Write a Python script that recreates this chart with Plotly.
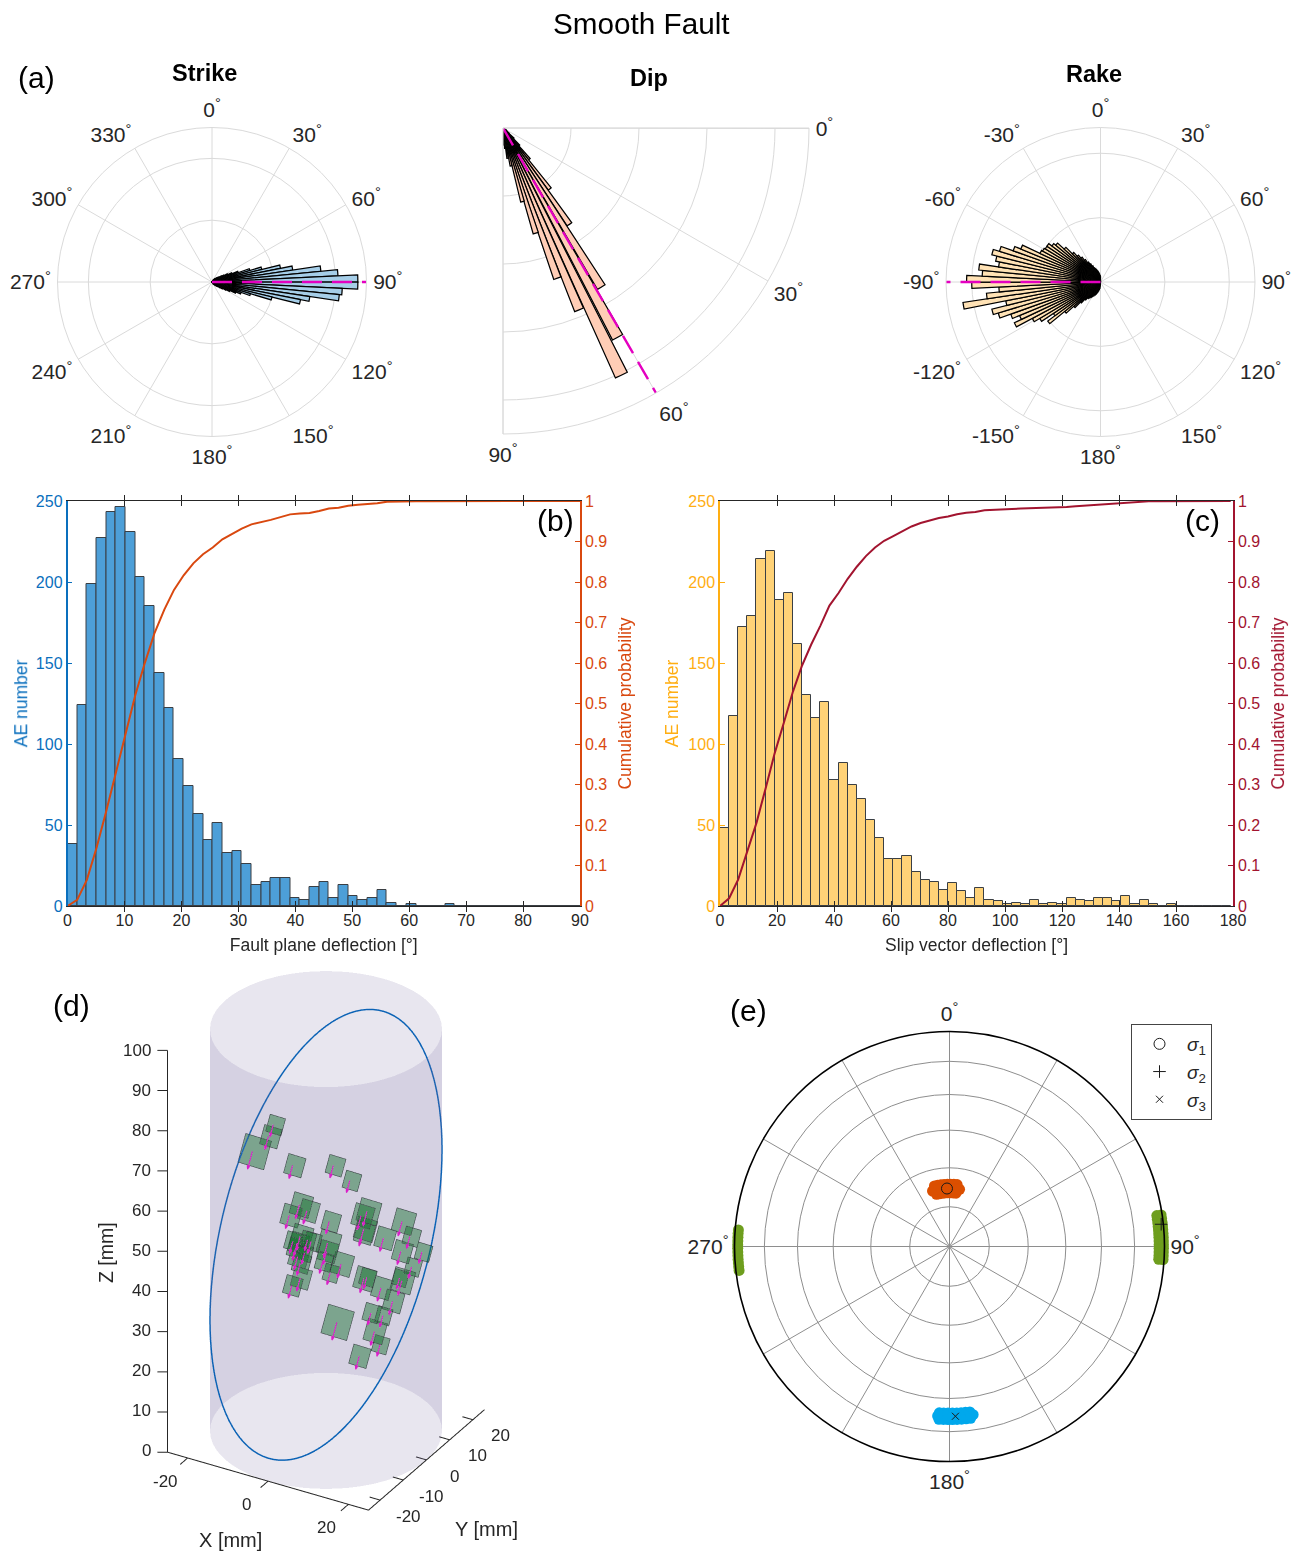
import numpy as np
import plotly.graph_objects as go

W, H = 1298, 1553
FONT = "Liberation Sans"
TXT = "#262626"

# ---------- data ----------
strike_first = 32.34375
strike_width = 2.8125
strike_vals = [3,4,5,6,7,8,10,12,14,18,22,28,35,45,64,83,113,132,177,204,236,236,211,207,160,146,100,65,50,42,32,26,20,16,12,10,8,6,5,4,3,3]
dip_theta = [32.9,35.7,38.5,41.3,44.1,46.9,49.7,52.5,55.4,58.3,61.3,64.4,67.3,70.1,72.7,75.2,78.0,81.3,84.1,86.9,89.5]
dip_vals = [5,6,8,12,22,35,60,113,172,275,351,403,290,235,162,112,57,45,30,25,20]
rake_first = -172.96875
rake_vals = [5,6,7,8,9,10,11,12,13,14,15,16,18,22,28,36,51,44,55,60,74,68,74,83,87,75,108,89,79,100,104,92,95,80,83,87,82,72,67,52,51,50,50,47,45,38,31,27,24,21,18,16,14,12,11,10,9,8,7,6,5,4]

fp_width = 1.7
fp_counts = [38,124,199,227,243,246,231,203,185,144,122,91,74,57,41,51,33,34,26,13,15,17,17,5,4,12,15,5,13,6,4,5,10,2,0,1,0,0,0,1,0,0,0,0,0,0,0,0,0,0,0,0,0]
sv_width = 3.2
sv_counts = [48,117,172,179,214,219,189,193,162,130,116,126,78,88,75,66,53,42,29,29,31,21,16,15,10,14,9,5,11,4,3,1,2,1,4,1,2,1,5,4,3,5,5,3,6,1,4,1,0,1,0,0,0,0,0,0]

sig1_r = [0.25]*8 + [0.29]*8 + [0.27]*10
sig1_t = [346,349,352,355,358,1,4,7, 346,349,352,355,358,1,4,7, 343,346,349,352,355,358,1,4,7,10]
sig3_r = [0.775]*8 + [0.805]*8 + [0.79]*9
sig3_t = [173,174.5,176,177.5,179,180.5,182,183.5, 173,174.5,176,177.5,179,180.5,182,183.5, 172,173.5,175,176.5,178,179.5,181,182.5,184]
sig2a_r = [0.975]*13 + [0.995]*13
sig2a_t = [81.5,82.5,83.5,84.5,85.5,86.5,87.5,88.5,89.5,90.5,91.5,92.5,93.5, 81.5,82.5,83.5,84.5,85.5,86.5,87.5,88.5,89.5,90.5,91.5,92.5,93.5]
sig2b_r = [0.985]*12 + [1.005]*12
sig2b_t = [263.5,264.5,265.5,266.5,267.5,268.5,269.5,270.5,271.5,272.5,273.5,274.5, 263.5,264.5,265.5,266.5,267.5,268.5,269.5,270.5,271.5,272.5,273.5,274.5]
mean_r = [0.27, 0.99, 0.79]
mean_t = [357.5, 84, 178]

# fault-plane events: x, y [mm] on the plane, size [mm]
ev_x = [-18.2,-18.6,-21.4,-11.3,-1.9,2.8,-7.4,-5.3,-9.1,0.5,8.6,7.5,17.3,20,8.9,8.9,14,18.8,23.7,22.2,-5.3,-5.6,-2.5,1.4,1.7,-4.7,-3.7,1.4,5.8,3.8,-2.8,-4.3,11.9,12.5,16.4,20.8,20.1,19.9,15.6,18.5,8.3,17.5,19.6,15.5,-6.7,-5.6,-3.3,-3.4]
ev_y = [9.8,8.43,6.38,6.19,7.47,6.41,2.32,1.94,0.9,1.53,3.76,3.13,3.83,2.52,1.83,1.39,1.52,0.68,1.29,-0.59,-0.93,-1.72,-1.12,-0.76,-1.66,-3.09,-3.69,-2.82,-2.51,-3.8,-5.25,-6.32,-3.32,-3.08,-3.73,-2.32,-2.12,-4.76,-6.65,-6.55,-8.69,-8.45,-9.65,-11.5,-1.69,-2.27,-2.53,-1.05]
ev_s = [3.8,4.3,6.4,4.3,4.0,3.8,4.7,4.4,4.4,4.0,5.0,4.7,4.9,3.8,4.7,4.3,4.4,4.3,3.6,3.6,4.7,4.3,3.8,5.0,4.3,4.4,4.0,3.8,4.7,3.6,4.3,4.0,4.7,3.6,4.4,5.0,3.4,4.4,3.8,3.6,6.4,4.7,3.6,4.3,3.8,4.0,3.4,3.4]

x_ticks = [-20, 0, 20]
y_ticks = [-20, -10, 0, 10, 20]
z_ticks = [0, 10, 20, 30, 40, 50, 60, 70, 80, 90, 100]

CYL_R = 25.0
CYL_H = 100.0
PLANE = (48.8, -0.016, 1.723)   # z0, dz/dx, dz/dy

def dom_x(a, b): return [a / W, b / W]
def dom_y(top, bot): return [1 - bot / H, 1 - top / H]
def deg(v): return f"{v}<sup>°</sup>"

fig = go.Figure()

# ---------- (a) polar roses ----------
GRID = "#DADADA"
tfont = dict(family=FONT, size=21, color=TXT)
ang30 = list(range(0, 360, 30))

def rose_layout(cx, cy, r, rmax, rt, labels):
    return dict(
        domain=dict(x=dom_x(cx - r, cx + r), y=dom_y(cy - r, cy + r)),
        bgcolor="rgba(0,0,0,0)", bargap=0,
        radialaxis=dict(range=[0, rmax], tickvals=rt, showticklabels=False, ticks="", showline=False,
                        gridcolor=GRID, gridwidth=1),
        angularaxis=dict(tickmode="array", tickvals=ang30, ticktext=labels, direction="clockwise", rotation=90,
                         gridcolor=GRID, gridwidth=1, linecolor=GRID, linewidth=1, ticks="outside", ticklen=2,
                         tickcolor="rgba(0,0,0,0)", tickfont=tfont),
    )

MAG = "#E400C0"
def rose(pid, theta, vals, width, color, dash_t, dash_r):
    fig.add_trace(go.Barpolar(subplot=pid, theta=theta, r=vals, width=width,
                              marker=dict(color=color, line=dict(color="#000000", width=1.25)), showlegend=False))
    fig.add_trace(go.Scatterpolar(subplot=pid, theta=[dash_t, dash_t], r=[0, dash_r], mode="lines",
                                  cliponaxis=False, line=dict(color=MAG, width=2.4, dash="20px,10px"), showlegend=False))

strike_t = [strike_first + i * strike_width for i in range(len(strike_vals))]
rake_t = [rake_first + i * strike_width for i in range(len(rake_vals))]
rose("polar", strike_t, strike_vals, strike_width, "#A6CEE8", 90, 250)
rose("polar2", [360 - a for a in dip_theta], dip_vals, 2.75, "#FFCDB6", 300, 450)
rose("polar3", rake_t, rake_vals, strike_width, "#FFE2B5", -90, 120)

lay_a = rose_layout(212, 282, 154.5, 250, [100, 200], [deg(a) for a in ang30])
lay_c = rose_layout(1100.5, 282, 154.5, 120, [50, 100],
                    [deg(a if a <= 180 else a - 360) for a in ang30])
lay_b = rose_layout(656, 281, 153, 450, [100, 200, 300, 400], [])
lay_b["domain"] = dict(x=dom_x(503, 809), y=dom_y(128, 434))
lay_b["sector"] = [270, 360]
lay_b["angularaxis"].update(rotation=0, direction="counterclockwise", tickvals=[359.9, 330, 300, 270],
                            ticktext=[deg(0), deg(30), deg(60), deg(90)])

# ---------- (b), (c) histograms ----------
def hist(xa, ya, ya2, counts, width, bar_col, cum_col):
    centres = [width * (i + 0.5) for i in range(len(counts))]
    edges = [width * i for i in range(len(counts) + 1)]
    cum = np.concatenate([[0], np.cumsum(counts) / np.sum(counts)])
    fig.add_trace(go.Bar(x=centres, y=counts, width=width, xaxis=xa, yaxis=ya,
                         marker=dict(color=bar_col, line=dict(color="#3A3F44", width=1)), showlegend=False))
    fig.add_trace(go.Scatter(x=edges, y=cum, xaxis=xa, yaxis=ya2, mode="lines",
                             line=dict(color=cum_col, width=2), showlegend=False))

hist("x", "y", "y2", fp_counts, fp_width, "#4D9FD8", "#D9480F")
hist("x2", "y3", "y4", sv_counts, sv_width, "#FFD277", "#A2142F")

def xax(dom, rng, dtick, title, anchor):
    return dict(domain=dom, range=rng, dtick=dtick, anchor=anchor, showgrid=False, zeroline=False,
                ticks="inside", ticklen=5, tickcolor=TXT, linecolor=TXT, linewidth=1.2, mirror="allticks",
                tickfont=dict(family=FONT, size=16, color=TXT),
                title=dict(text=title, font=dict(family=FONT, size=17.5, color=TXT), standoff=10))

def yax(dom, col, anchor, title, standoff):
    return dict(domain=dom, range=[0, 250], dtick=50, anchor=anchor, showgrid=False, zeroline=False, ticks="inside",
                ticklen=5, tickcolor=col, linecolor=col, linewidth=1.5, tickfont=dict(family=FONT, size=16, color=col),
                title=dict(text=title, font=dict(family=FONT, size=17.5, color=col), standoff=standoff))

def y2ax(dom, col, anchor, over):
    return dict(domain=dom, range=[0, 1], dtick=0.1, anchor=anchor, overlaying=over, side="right", showgrid=False,
                zeroline=False, ticks="inside", ticklen=5, tickcolor=col, linecolor=col, linewidth=1.5,
                tickformat="~g", tickfont=dict(family=FONT, size=16, color=col),
                title=dict(text="Cumulative probability", font=dict(family=FONT, size=17.5, color=col), standoff=12))

dy_h = dom_y(501, 906)

# ---------- (d) cylinder, fault plane, events ----------
t = np.radians(np.arange(0, 361, 6))
cx, cy = CYL_R * np.cos(t), CYL_R * np.sin(t)
n = len(t)
xs = np.concatenate([cx, cx])
ys = np.concatenate([cy, cy])
zs = np.concatenate([np.zeros(n), np.full(n, CYL_H)])
ii, jj, kk = [], [], []
for a in range(n - 1):
    ii += [a, a + 1]
    jj += [a + 1, a + 1 + n]
    kk += [a + n, a + n]
flat = dict(ambient=1, diffuse=0, specular=0, roughness=1, fresnel=0)
fig.add_trace(go.Mesh3d(scene="scene", x=xs, y=ys, z=zs, i=ii, j=jj, k=kk, color="rgb(118,105,160)", opacity=0.17,
                        lighting=flat, flatshading=True, hoverinfo="skip", showlegend=False))

z0, gx, gy = PLANE
te = np.radians(np.arange(0, 361, 3))
ex, ey = CYL_R * np.cos(te), CYL_R * np.sin(te)
fig.add_trace(go.Scatter3d(scene="scene", x=ex, y=ey, z=z0 + gx * ex + gy * ey, mode="lines",
                           line=dict(color="#0A62B5", width=3), hoverinfo="skip", showlegend=False))

e1 = np.array([1.0, 0.0, gx]); e1 /= np.linalg.norm(e1)
e2 = np.array([0.0, 1.0, gy]); e2 -= e1 * e2.dot(e1); e2 /= np.linalg.norm(e2)
nv = np.cross(e1, e2)
if nv.dot([0.433, -0.75, 0.5]) < 0:
    nv = -nv
lx, ly, lz, ax_, ay_, az_ = [], [], [], [], [], []
for idx, (x0, y0, s) in enumerate(zip(ev_x, ev_y, ev_s)):
    c0 = np.array([x0, y0, z0 + gx * x0 + gy * y0])
    c = c0 + nv * idx * 0.02
    corners = [c + (u * e1 + v * e2) * s / 2 for u, v in [(-1, -1), (1, -1), (1, 1), (-1, 1)]]
    fig.add_trace(go.Mesh3d(scene="scene", x=[p[0] for p in corners], y=[p[1] for p in corners], z=[p[2] for p in corners],
                            i=[0, 0], j=[1, 2], k=[2, 3], color="#0F6E28", opacity=0.45,
                            lighting=flat, flatshading=True, hoverinfo="skip", showlegend=False))
    for p in corners + [corners[0]]:
        lx.append(p[0]); ly.append(p[1]); lz.append(p[2])
    lx.append(None); ly.append(None); lz.append(None)
    c_up = c0 + nv * 1.2
    tip = c_up - e2 * (s / 2 + 0.8)
    for p in [c_up, tip, tip + e2 * 0.8 + e1 * 0.3, tip + e2 * 0.8 - e1 * 0.3, tip]:
        ax_.append(p[0]); ay_.append(p[1]); az_.append(p[2])
    ax_.append(None); ay_.append(None); az_.append(None)
fig.add_trace(go.Scatter3d(scene="scene", x=lx, y=ly, z=lz, mode="lines", line=dict(color="#25352A", width=1.2),
                           hoverinfo="skip", showlegend=False))
fig.add_trace(go.Scatter3d(scene="scene", x=ax_, y=ay_, z=az_, mode="lines", line=dict(color="#EE10D0", width=2.2),
                           hoverinfo="skip", showlegend=False))

# MATLAB-style axis lines and tick marks on the three front edges
B = -CYL_R
ax_x, ax_y, ax_z = [-B * -1, B, -B], [B, B, B], [0, 0, 0]
segs = [((B, B, 0), (B, B, 100)), ((B, B, 0), (-B, B, 0)), ((-B, B, 0), (-B, -B, 0))]
segs += [((B, B, v), (B - 1.9, B - 1.1, v)) for v in z_ticks]
segs += [((v, B, 0), (v, B - 3.2, 0)) for v in x_ticks]
segs += [((-B, v, 0), (-B - 2.6, v, 0)) for v in y_ticks]
sx, sy, sz = [], [], []
for p, q in segs:
    sx += [p[0], q[0], None]; sy += [p[1], q[1], None]; sz += [p[2], q[2], None]
fig.add_trace(go.Scatter3d(scene="scene", x=sx, y=sy, z=sz, mode="lines", line=dict(color=TXT, width=2),
                           hoverinfo="skip", showlegend=False))

def ax3(rng):
    return dict(range=rng, showgrid=False, zeroline=False, showbackground=False, showspikes=False, showline=False,
                ticks="", showticklabels=False, title=dict(text=""))

SC = 0.725
scene = dict(
    domain=dict(x=dom_x(106, 546), y=dom_y(910, 1550)),
    aspectmode="manual", aspectratio=dict(x=SC * 1.2, y=SC * 1.2, z=2 * SC),
    camera=dict(eye=dict(x=0.6, y=-1.04, z=0.693), center=dict(x=0, y=0, z=0), up=dict(x=0, y=0, z=1),
                projection=dict(type="orthographic")),
    xaxis=ax3([-30, 30]), yaxis=ax3([-30, 30]), zaxis=ax3([0, 100]),
)

def proj(x, y, z):
    """Pixel position of a scene point under the orthographic camera above."""
    return 326 + 4.018 * x + 2.32 * y, 1431 + 1.16 * x - 2.009 * y - 4.0 * z

# ---------- (e) stereonet ----------
for r_, t_, col in [(sig1_r, sig1_t, "#DB4F00"), (sig3_r, sig3_t, "#00A8EC"),
                    (sig2a_r, sig2a_t, "#6E9E1E"), (sig2b_r, sig2b_t, "#6E9E1E")]:
    fig.add_trace(go.Scatterpolar(subplot="polar4", r=r_, theta=t_, mode="markers", cliponaxis=False,
                                  marker=dict(color=col, size=11), showlegend=False))
for i, (sym, size, name) in enumerate([("circle-open", 11, "<i>σ</i><sub>1</sub>"), ("cross-thin-open", 9, "<i>σ</i><sub>2</sub>"),
                                 ("x-thin-open", 7, "<i>σ</i><sub>3</sub>")]):
    fig.add_trace(go.Scatterpolar(subplot="polar4", r=[mean_r[i]], theta=[mean_t[i]], mode="markers", name=name, cliponaxis=False,
                                  marker=dict(symbol=sym, size=size, color="#1A1A1A", line=dict(color="#1A1A1A", width=1))))

lab_e = [deg(a) if a in (0, 90, 180, 270) else "" for a in ang30]
lay_e = dict(
    domain=dict(x=dom_x(734.5, 1164.5), y=dom_y(1031.5, 1461.5)),
    bgcolor="rgba(0,0,0,0)",
    radialaxis=dict(range=[0, 1], tickvals=[0.185, 0.366, 0.541, 0.707, 0.861], showticklabels=False, ticks="",
                    showline=False, gridcolor="#8E8E8E", gridwidth=1),
    angularaxis=dict(tickmode="array", tickvals=ang30, ticktext=lab_e, direction="clockwise", rotation=90,
                     gridcolor="#8E8E8E", gridwidth=1, linecolor="#000000", linewidth=1.6, ticks="outside", ticklen=1,
                     tickcolor="rgba(0,0,0,0)", tickfont=dict(family=FONT, size=21, color=TXT)),
)

# ---------- text ----------
def note(x, y, text, size, bold=False, angle=0, color="#000000", anchor="center"):
    return dict(x=x / W, y=1 - y / H, xref="paper", yref="paper", xanchor=anchor, yanchor="middle", showarrow=False,
                textangle=angle, text=f"<b>{text}</b>" if bold else text, font=dict(family=FONT, size=size, color=color))

notes = [note(641, 23, "Smooth Fault", 29.7), note(204, 73, "Strike", 23.5, True), note(649, 78, "Dip", 23.5, True),
         note(1094, 74, "Rake", 23.5, True), note(36, 78, "(a)", 30), note(555, 520, "(b)", 30), note(1202, 520, "(c)", 30),
         note(71, 1005, "(d)", 30), note(748, 1011, "(e)", 30),
         note(106, 1252, "Z [mm]", 19.5, angle=-90, color=TXT), note(230, 1540, "X [mm]", 20, color=TXT),
         note(486, 1529, "Y [mm]", 20, color=TXT)]
for v in z_ticks:
    px, py = proj(B, B, v)
    notes.append(note(px - 15, py - 2, str(v), 17, color=TXT, anchor="right"))
for v in x_ticks:
    px, py = proj(v, B, 0)
    notes.append(note(px - 22, py + 23, str(v), 17, color=TXT))
for v in y_ticks:
    px, py = proj(-B, v, 0)
    notes.append(note(px + 28, py + 16, str(v), 17, color=TXT))

fig.update_layout(
    width=W, height=H, margin=dict(l=0, r=0, t=0, b=0, autoexpand=False), paper_bgcolor="white", plot_bgcolor="rgba(0,0,0,0)",
    font=dict(family=FONT, color=TXT), bargap=0, barmode="overlay", annotations=notes,
    polar=lay_a, polar2=lay_b, polar3=lay_c, polar4=lay_e, scene=scene,
    xaxis=xax(dom_x(67.5, 580), [0, 90], 10, "Fault plane deflection [°]", "y"),
    yaxis=yax(dy_h, "#0A6FBD", "x", "AE number", 4),
    yaxis2=y2ax(dy_h, "#D9480F", "x", "y"),
    xaxis2=xax(dom_x(720, 1233), [0, 180], 20, "Slip vector deflection [°]", "y3"),
    yaxis3=yax(dy_h, "#FFAE12", "x2", "AE number", 5),
    yaxis4=y2ax(dy_h, "#A2142F", "x2", "y3"),
    legend=dict(x=1131 / W, y=1 - 1024 / H, xanchor="left", yanchor="top", bordercolor="#444444", borderwidth=1,
                bgcolor="white", font=dict(family=FONT, size=19, color=TXT), itemwidth=45, tracegroupgap=0),
    showlegend=True,
)

fig.write_html("out.html", config=dict(displayModeBar=False))
with open("out.html", encoding="utf-8") as f:
    page = f.read()
page = page.replace("<head>", "<head><style>html,body{margin:0;padding:0;overflow:hidden}</style>", 1)
with open("out.html", "w", encoding="utf-8") as f:
    f.write(page)
